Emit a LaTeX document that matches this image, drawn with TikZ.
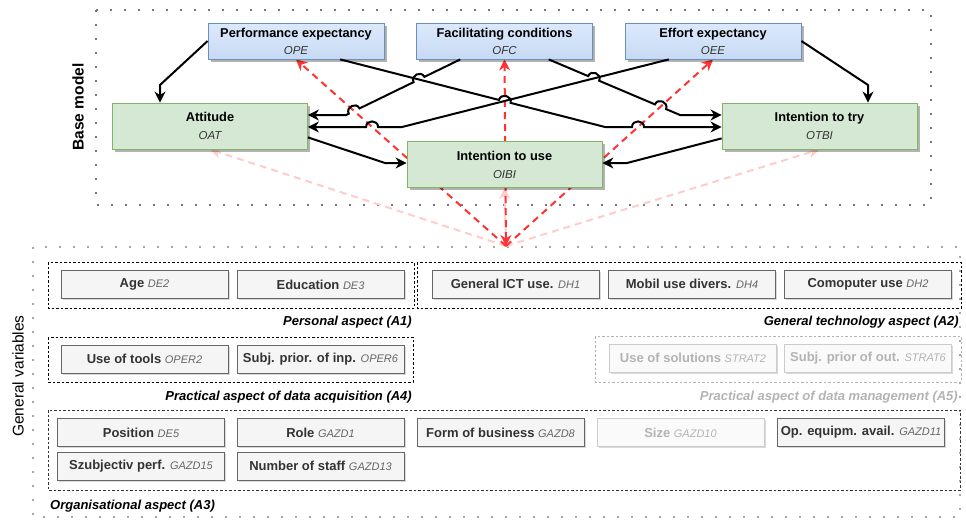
\documentclass[tikz,border=0pt]{standalone}
\usepackage{fontspec}
\setmainfont{Liberation Sans}
\usetikzlibrary{arrows.meta,calc,intersections,shadows,backgrounds}

\definecolor{blueTop}{HTML}{DCE9FC}
\definecolor{blueBot}{HTML}{C7DAF3}
\definecolor{blueLine}{HTML}{6C8EBF}
\definecolor{greenFill}{HTML}{D5E8D4}
\definecolor{greenLine}{HTML}{82B366}
\definecolor{grayFill}{HTML}{F5F5F5}
\definecolor{grayLine}{HTML}{666666}
\definecolor{grayText}{HTML}{333333}
\definecolor{codeGray}{HTML}{666666}
\definecolor{fadeFill}{HTML}{FAFAFA}
\definecolor{fadeLine}{HTML}{CCCCCC}
\definecolor{fadeText}{HTML}{B3B3B3}
\definecolor{redStrong}{HTML}{FF3333}
\definecolor{redSoft}{HTML}{FFCCCC}
\definecolor{dotGray}{HTML}{777777}

\newcommand\vcode[1]{{\mdseries\itshape\fontsize{11}{13}\selectfont\color{codeGray}#1}}
\newcommand\fcode[1]{{\mdseries\itshape\fontsize{11}{13}\selectfont\color{fadeText}#1}}
\newcommand\ocode[1]{{\mdseries\itshape\fontsize{11.5}{13}\selectfont\color{grayText}#1}}

\begin{document}
\begin{tikzpicture}[x=1pt,y=-1pt,
  frame/.style={draw=dotGray, line width=2pt, dash pattern=on 2pt off 12pt},
  grp/.style={draw=black, line width=0.8pt, dash pattern=on 2.5pt off 2pt},
  grpfade/.style={draw=fadeText, line width=0.8pt, dash pattern=on 2.5pt off 2pt},
  shade/.style={drop shadow={shadow xshift=2.5pt, shadow yshift=-2.5pt, fill=black, opacity=0.3}},
  bbx/.style={shade, draw=blueLine, top color=blueTop, bottom color=blueBot, line width=0.8pt,
    minimum width=176pt, minimum height=36pt, inner sep=0pt, align=center,
    font=\fontsize{12.8}{14}\selectfont},
  gnd/.style={shade, draw=greenLine, fill=greenFill, line width=0.8pt,
    minimum width=195pt, minimum height=46pt, inner sep=0pt, align=center,
    font=\fontsize{12.8}{14}\selectfont},
  gbx/.style={drop shadow={shadow xshift=1.5pt, shadow yshift=-1.5pt, fill=black, opacity=0.15},
    draw=grayLine, fill=grayFill, text=grayText, line width=0.8pt,
    minimum width=167pt, minimum height=28pt, inner sep=0pt,
    font=\bfseries\fontsize{13}{15}\selectfont},
  fbx/.style={gbx, draw=fadeLine, fill=fadeFill, text=fadeText},
  lbl/.style={inner sep=0pt, font=\bfseries\itshape\fontsize{13}{15}\selectfont},
  edge/.style={line width=2pt, draw=black, -{Stealth[length=11pt,width=11pt,inset=3.5pt]}},
  redarrow/.style={line width=2pt, draw=redStrong, dash pattern=on 7pt off 5pt,
    -{Stealth[length=11pt,width=11pt,inset=3.5pt]}},
  softarrow/.style={line width=2pt, draw=redSoft, dash pattern=on 7pt off 5pt,
    -{Stealth[length=11pt,width=11pt,inset=3.5pt]}},
  hopR/.style={bend left=90, looseness=1.6},
  hopL/.style={bend right=90, looseness=1.6}]

\useasboundingbox (0,0) rectangle (966,520);

% ---------- side titles ----------
\node[rotate=90, inner sep=0pt, font=\bfseries\fontsize{15.5}{18}\selectfont] (tbase) at (78,107) {Base model};
\node[rotate=90, inner sep=0pt, font=\fontsize{15.5}{18}\selectfont] (tgen) at (18,376) {General variables};

% ---------- base model ----------
\node[bbx] (pe) at (296,41) {\textbf{Performance expectancy}\\[3pt]\ocode{OPE}};
\node[bbx] (fc) at (504.5,41) {\textbf{Facilitating conditions}\\[3pt]\ocode{OFC}};
\node[bbx] (ee) at (713,41) {\textbf{Effort expectancy}\\[3pt]\ocode{OEE}};
\node[gnd] (att) at (210,126) {\textbf{Attitude}\\[4pt]\ocode{OAT}};
\node[gnd] (itt) at (819.5,126) {\textbf{Intention to try}\\[4pt]\ocode{OTBI}};
\node[gnd] (itu) at (504.5,164.5) {\textbf{Intention to use}\\[4pt]\ocode{OIBI}};

% ---------- general variables ----------
\draw[grp] (48,262) rectangle (414,308);
\draw[grp] (417,262) rectangle (961,308);
\draw[grp] (48,337) rectangle (413,382);
\draw[grpfade] (595,336) rectangle (961,382);
\draw[grp, draw=grayText] (48,410) rectangle (960,490);

\node[gbx] (age) at (144.5,284.5) {Age \vcode{DE2}};
\node[gbx] (edu) at (320.5,284.5) {Education \vcode{DE3}};
\node[gbx] (ict) at (515.5,284) {General ICT use. \vcode{DH1}};
\node[gbx] (mob) at (692,284) {Mobil use divers. \vcode{DH4}};
\node[gbx] (comp) at (868,284) {Comoputer use \vcode{DH2}};

\node[gbx] (tools) at (144.5,359) {Use of tools \vcode{OPER2}};
\node[gbx] (inp) at (320.5,359) {Subj. prior. of inp. \vcode{OPER6}};
\node[fbx] (sol) at (693,358) {Use of solutions \fcode{STRAT2}};
\node[fbx] (out) at (868,358) {Subj. prior of out. \fcode{STRAT6}};

\node[gbx] (pos) at (141,432.5) {Position \vcode{DE5}};
\node[gbx] (role) at (320.5,432.5) {Role \vcode{GAZD1}};
\node[gbx] (form) at (500.5,432.5) {Form of business \vcode{GAZD8}};
\node[fbx] (size) at (680.5,432.5) {Size \fcode{GAZD10}};
\node[gbx] (equip) at (861,432.5) {Op. equipm. avail. \vcode{GAZD11}};
\node[gbx] (perf) at (141,466) {Szubjectiv perf. \vcode{GAZD15}};
\node[gbx] (staff) at (320.5,466) {Number of staff \vcode{GAZD13}};

\node[lbl, anchor=east] (la1) at (412,322) {Personal aspect (A1)};
\node[lbl, anchor=east] (la2) at (959,322) {General technology aspect (A2)};
\node[lbl, anchor=east] (la4) at (412,397) {Practical aspect of data acquisition (A4)};
\node[lbl, anchor=east, text=fadeText] (la5) at (958,397) {Practical aspect of data management (A5)};
\node[lbl, anchor=west] (la3) at (50,506) {Organisational aspect (A3)};

% ---------- connector geometry ----------
\coordinate (src) at (506,246);
\coordinate (w1) at (160,85);
\coordinate (w6) at (868,85);
\coordinate (e2s) at ($(pe.south west)!0.75!(pe.south east)$);
\coordinate (w2) at (605,127);
\coordinate (e2e) at (w2 -| itt.west);
\coordinate (e3s) at ($(fc.south west)!0.25!(fc.south east)$);
\coordinate (w3) at (346,115);
\coordinate (e3e) at (w3 -| att.east);
\coordinate (e4s) at ($(fc.south west)!0.75!(fc.south east)$);
\coordinate (w4) at (680,115);
\coordinate (e4e) at (w4 -| itt.west);
\coordinate (e5s) at ($(ee.south west)!0.25!(ee.south east)$);
\coordinate (w5) at (402,127);
\coordinate (e5e) at (w5 -| att.east);
\coordinate (e7s) at ($(att.south east)+(0,-12)$);
\coordinate (w7) at (385,163);
\coordinate (e8s) at ($(itt.south west)+(0,-11)$);
\coordinate (w8) at (627,163);

\path[name path=r1] (src) -- (pe.south);
\path[name path=r2] (src) -- (fc.south);
\path[name path=r3] (src) -- (ee.south);
\path[name path=e2a] (e2s) -- (w2);
\path[name path=e2b] (w2) -- (e2e);
\path[name path=e3a] (e3s) -- (w3);
\path[name path=e4a] (e4s) -- (w4);
\path[name path=e5a] (e5s) -- (w5);
\path[name path=e5b] (w5) -- (e5e);

\path[name intersections={of=e5b and r1, by=j5}];
\path[name intersections={of=e2a and r2, by=j2a}];
\path[name intersections={of=e2b and r3, by=j2b}];
\path[name intersections={of=e3a and e2a, by=j3a}];
\path[name intersections={of=e3a and r1, by=j3b}];
\path[name intersections={of=e4a and e5a, by=j4a}];
\path[name intersections={of=e4a and r3, by=j4b}];

% ---------- frames and influence lines (behind the boxes) ----------
\begin{scope}[on background layer]
  \draw[frame] (96,10) rectangle (931,205);
  \draw[frame, draw=gray!70] (33,247) rectangle (960,517);
  \draw[softarrow] (src) -- (att.south);
  \draw[softarrow] (src) -- (itt.south);
  \draw[softarrow] (src) -- (itu.south);
  \draw[redarrow] (src) -- (pe.south);
  \draw[redarrow] (src) -- (ee.south);
  \draw[redarrow, {Stealth[length=11pt,width=11pt,inset=3.5pt]}-{Stealth[length=11pt,width=11pt,inset=3.5pt]}] (src) -- (fc.south);
\end{scope}

% ---------- model relations ----------
\draw[edge] (pe.west) -- (w1) -- (w1 |- att.north);
\draw[edge] (ee.east) -- (w6) -- (w6 |- itt.north);
\draw[edge] (e5s) -- (w5) -- ($(j5)!6pt!(w5)$) to[hopL] ($(j5)!6pt!(e5e)$) -- (e5e);
\draw[edge] (e2s) -- ($(j2a)!6pt!(e2s)$) to[hopR] ($(j2a)!6pt!(w2)$) -- (w2)
  -- ($(j2b)!6pt!(w2)$) to[hopR] ($(j2b)!6pt!(e2e)$) -- (e2e);
\draw[edge] (e3s) -- ($(j3a)!6pt!(e3s)$) to[hopL] ($(j3a)!6pt!(w3)$)
  -- ($(j3b)!6pt!(e3s)$) to[hopL] ($(j3b)!6pt!(w3)$) -- (w3) -- (e3e);
\draw[edge] (e4s) -- ($(j4a)!6pt!(e4s)$) to[hopR] ($(j4a)!6pt!(w4)$)
  -- ($(j4b)!6pt!(e4s)$) to[hopR] ($(j4b)!6pt!(w4)$) -- (w4) -- (e4e);
\draw[edge] (e7s) -- (w7) -- (w7 -| itu.west);
\draw[edge] (e8s) -- (w8) -- (w8 -| itu.east);

\end{tikzpicture}
\end{document}
